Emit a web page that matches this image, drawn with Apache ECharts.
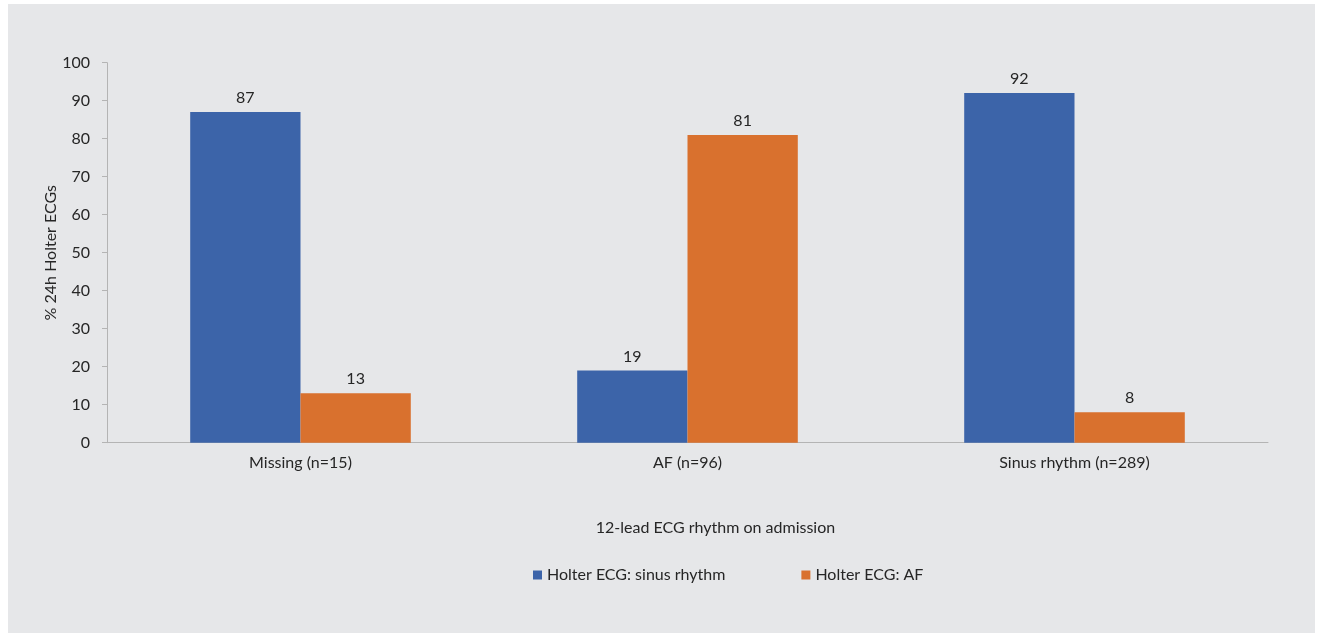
<!DOCTYPE html>
<html>
<head>
<meta charset="utf-8">
<script src="https://cdn.jsdelivr.net/npm/echarts@6/dist/echarts.min.js"></script>
<style>
html,body{margin:0;padding:0;background:#ffffff;}
#bg{position:absolute;left:8px;top:4px;width:1307px;height:629px;background:#e6e7e9;}
#chart{position:absolute;left:0;top:0;width:1320px;height:634px;}
</style>
</head>
<body>
<div id="bg"></div>
<div id="chart"></div>
<script>
const categories = ['Missing (n=15)', 'AF (n=96)', 'Sinus rhythm (n=289)'];
const sinusValues = [87, 19, 92];
const afValues = [13, 81, 8];
const seriesNames = ['Holter ECG: sinus rhythm', 'Holter ECG: AF'];
const yAxisTitle = '% 24h Holter ECGs';
const xAxisTitle = '12-lead ECG rhythm on admission';

const FONT = 'Lato, "Open Sans", sans-serif';
const TXT = '#262626';
const FS = 16;
const chart = echarts.init(document.getElementById('chart'), null, {renderer: 'canvas'});
const labelStyle = {show: true, position: 'top', distance: 6, color: TXT, fontSize: FS, fontFamily: FONT};
chart.setOption({
  backgroundColor: 'transparent',
  animation: false,
  textStyle: {fontFamily: FONT},
  grid: {left: 107, right: 52, top: 62.7, bottom: 191.3, containLabel: false},
  legend: {
    data: seriesNames,
    bottom: 46,
    left: 528,
    itemWidth: 9,
    itemHeight: 9,
    itemGap: 76,
    icon: 'rect',
    textStyle: {color: TXT, fontSize: FS, fontFamily: FONT}
  },
  xAxis: {
    type: 'category',
    data: categories,
    name: xAxisTitle,
    nameLocation: 'middle',
    nameGap: 77,
    nameTextStyle: {color: TXT, fontSize: FS, fontFamily: FONT, padding: [0, 0, 0, 56]},
    axisLine: {lineStyle: {color: '#b4b4b4', width: 1}},
    axisTick: {show: false},
    axisLabel: {color: TXT, fontSize: FS, margin: 12, fontFamily: FONT}
  },
  yAxis: {
    type: 'value',
    min: 0, max: 100, interval: 10,
    name: yAxisTitle,
    nameLocation: 'middle',
    nameRotate: 90,
    nameGap: 56,
    nameMoveOverlap: false,
    nameTextStyle: {color: TXT, fontSize: FS, fontFamily: FONT, verticalAlign: 'middle'},
    axisLine: {show: true, lineStyle: {color: '#b4b4b4', width: 1}},
    axisTick: {show: true, length: 5, lineStyle: {color: '#b4b4b4'}},
    splitLine: {show: false},
    axisLabel: {color: TXT, fontSize: FS, margin: 17, fontFamily: FONT}
  },
  series: [
    {name: seriesNames[0], type: 'bar', data: sinusValues, barGap: '0%', barCategoryGap: '43%',
     itemStyle: {color: '#3c64a9'}, label: labelStyle},
    {name: seriesNames[1], type: 'bar', data: afValues,
     itemStyle: {color: '#d9712e'}, label: labelStyle}
  ]
});
</script>
</body>
</html>
